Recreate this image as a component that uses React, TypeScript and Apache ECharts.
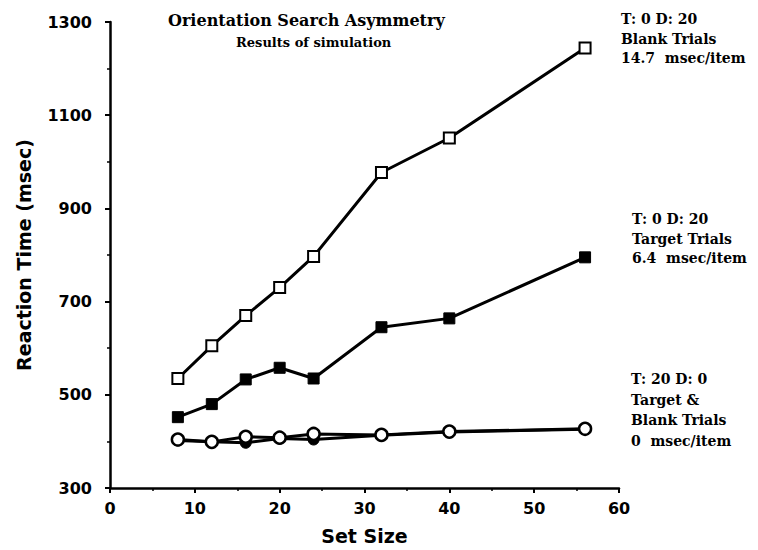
import React, { useEffect, useRef } from "react";
import * as echarts from "echarts";

const setSizes = [8, 12, 16, 20, 24, 32, 40, 56];
const blankT0D20 = [535, 605, 670, 730, 797, 977, 1051, 1244];
const targetT0D20 = [452, 480, 533, 558, 535, 645, 664, 795];
const openT20D0 = [404, 399, 410, 408, 416, 414, 421, 427];
const filledT20D0 = [402, 399, 397, 406, 404, 413, 420, 426];

const titleText = "Orientation Search Asymmetry";
const subtitleText = "Results of simulation";
const note1 = ["T: 0 D: 20", "Blank Trials", "14.7  msec/item"];
const note2 = ["T: 0 D: 20", "Target Trials", "6.4  msec/item"];
const note3 = ["T: 20 D: 0", "Target &", "Blank Trials", "0  msec/item"];

const pairs = (ys: number[]) => setSizes.map((x, i) => [x, ys[i]]);

const serif = "DejaVu Serif";
const sans = "DejaVu Sans";

function noteTexts(lines: string[], x: number, y0: number, step: number) {
  return lines.map((t, i) => ({
    type: "text",
    left: x,
    top: y0 + i * step,
    style: {
      text: t,
      fill: "#000",
      font: `bold 14px "${serif}"`,
      textVerticalAlign: "middle",
    },
  }));
}

export default function App() {
  const ref = useRef<HTMLDivElement>(null);
  useEffect(() => {
    document.body.style.margin = "0";
    if (!ref.current) return;
    const chart = echarts.init(ref.current, null, { renderer: "svg" });
    const lineStyle = { color: "#000", width: 3 };
    chart.setOption({
      animation: false,
      backgroundColor: "#fff",
      grid: { left: 110, right: 139, top: 22, bottom: 56, containLabel: false },
      xAxis: {
        type: "value",
        min: 0,
        max: 60,
        interval: 10,
        name: "Set Size",
        nameLocation: "middle",
        nameGap: 38,
        nameTextStyle: { fontFamily: sans, fontWeight: "bold", fontSize: 19, color: "#000" },
        axisLine: { lineStyle: { color: "#000", width: 2.5 } },
        axisTick: { show: true, length: 5, lineStyle: { color: "#000", width: 2 } },
        minorTick: { show: true, splitNumber: 2, length: 3, lineStyle: { color: "#000", width: 1.5 } },
        splitLine: { show: false },
        axisLabel: {
          fontFamily: sans,
          fontWeight: "bold",
          fontSize: 16,
          color: "#000",
          margin: 12,
          formatter: (v: number) => String(v),
        },
      },
      yAxis: {
        type: "value",
        min: 300,
        max: 1300,
        interval: 200,
        name: "Reaction Time (msec)",
        nameLocation: "middle",
        nameGap: 77,
        nameRotate: 90,
        nameTextStyle: { fontFamily: sans, fontWeight: "bold", fontSize: 19, color: "#000" },
        axisLine: { show: true, lineStyle: { color: "#000", width: 2.5 } },
        axisTick: { show: true, length: 5, lineStyle: { color: "#000", width: 2 } },
        minorTick: { show: true, splitNumber: 2, length: 3, lineStyle: { color: "#000", width: 1.5 } },
        splitLine: { show: false },
        axisLabel: {
          fontFamily: sans,
          fontWeight: "bold",
          fontSize: 16,
          color: "#000",
          margin: 18,
          formatter: (v: number) => String(v),
        },
      },
      series: [
        {
          name: "T:0 D:20 Blank Trials",
          type: "line",
          data: pairs(blankT0D20),
          symbol: "rect",
          symbolSize: 11,
          lineStyle,
          itemStyle: { color: "#fff", borderColor: "#000", borderWidth: 2 },
          z: 3,
        },
        {
          name: "T:0 D:20 Target Trials",
          type: "line",
          data: pairs(targetT0D20),
          symbol: "rect",
          symbolSize: 11,
          lineStyle,
          itemStyle: { color: "#000", borderColor: "#000", borderWidth: 1 },
          z: 3,
        },
        {
          name: "T:20 D:0 (filled)",
          type: "line",
          data: pairs(filledT20D0),
          symbol: "circle",
          symbolSize: 11,
          lineStyle,
          itemStyle: { color: "#000", borderColor: "#000", borderWidth: 1 },
          z: 2,
        },
        {
          name: "T:20 D:0 (open)",
          type: "line",
          data: pairs(openT20D0),
          symbol: "circle",
          symbolSize: 12,
          lineStyle,
          itemStyle: { color: "#fff", borderColor: "#000", borderWidth: 2.5 },
          z: 4,
        },
      ],
      graphic: [
        {
          type: "text",
          left: 168,
          top: 12,
          style: { text: titleText, fill: "#000", font: `bold 16px "${serif}"` },
        },
        {
          type: "text",
          left: 236,
          top: 36,
          style: { text: subtitleText, fill: "#000", font: `bold 13px "${serif}"` },
        },
        ...noteTexts(note1, 621, 12, 19.5),
        ...noteTexts(note2, 632, 212, 19.5),
        ...noteTexts(note3, 631, 372, 20.5),
      ],
    });
    return () => chart.dispose();
  }, []);
  return <div ref={ref} style={{ width: 758, height: 550 }} />;
}
